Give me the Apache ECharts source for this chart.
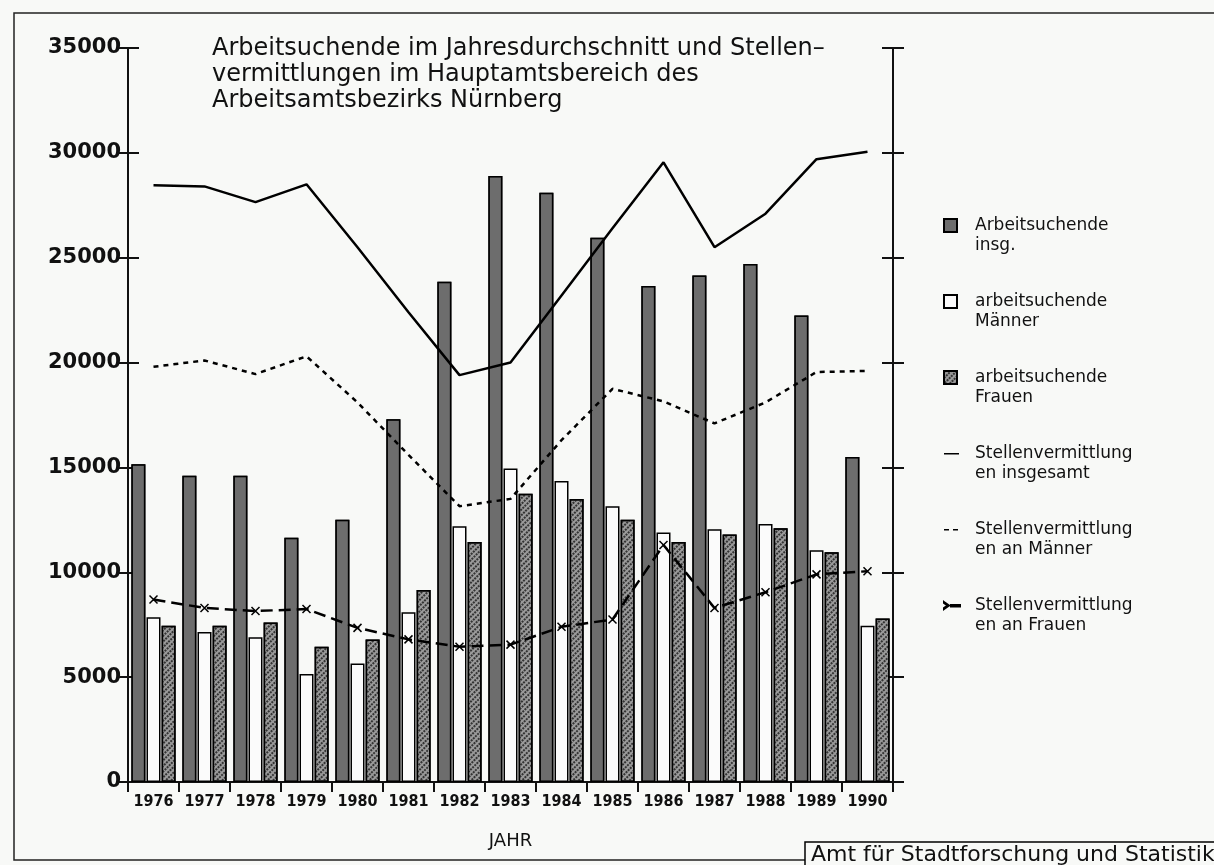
<!DOCTYPE html>
<html>
<head>
<meta charset="utf-8">
<script src="https://cdn.jsdelivr.net/npm/echarts@6/dist/echarts.min.js"></script>
<style>
html,body{margin:0;padding:0;background:#f8f9f7;}
#chart{width:1214px;height:865px;}
</style>
</head>
<body>
<div id="chart"></div>
<script>
var years = ['1976','1977','1978','1979','1980','1981','1982','1983','1984','1985','1986','1987','1988','1989','1990'];
var yTicks = [0, 5000, 10000, 15000, 20000, 25000, 30000, 35000];
var titleLines = ['Arbeitsuchende im Jahresdurchschnitt und Stellen\u2013', 'vermittlungen im Hauptamtsbereich des', 'Arbeitsamtsbezirks N\u00fcrnberg'];
var seriesNames = ['Arbeitsuchende\ninsg.', 'arbeitsuchende\nM\u00e4nner', 'arbeitsuchende\nFrauen', 'Stellenvermittlung\nen insgesamt', 'Stellenvermittlung\nen an M\u00e4nner', 'Stellenvermittlung\nen an Frauen'];
var arbeitsuchendeInsg = [15150, 14600, 14600, 11650, 12500, 17300, 23850, 28900, 28100, 25950, 23650, 24150, 24700, 22250, 15500];
var arbeitsuchendeMaenner = [7850, 7150, 6900, 5150, 5650, 8100, 12200, 14950, 14350, 13150, 11900, 12050, 12300, 11050, 7450];
var arbeitsuchendeFrauen = [7450, 7450, 7600, 6450, 6800, 9150, 11450, 13750, 13500, 12500, 11450, 11800, 12100, 10950, 7800];
var stellenInsgesamt = [28450, 28400, 27650, 28500, 25500, 22400, 19400, 20000, 23200, 26400, 29550, 25500, 27100, 29700, 30050];
var stellenMaenner = [19800, 20100, 19450, 20300, 18100, 15600, 13150, 13500, 16300, 18750, 18150, 17100, 18100, 19550, 19600];
var stellenFrauen = [8700, 8300, 8150, 8250, 7350, 6800, 6450, 6550, 7400, 7750, 11300, 8300, 9050, 9900, 10050];
var footerText = 'Amt f\u00fcr Stadtforschung und Statistik';
var xAxisName = 'JAHR';

var chart = echarts.init(document.getElementById('chart'), null, {renderer: 'canvas'});
var yMin = yTicks[0], yMax = yTicks[yTicks.length - 1], yInt = yTicks[1] - yTicks[0];
var ink = '#111';
var bg = '#f8f9f7';

function yAx(pos, inside, showLabel, showLine) {
  return {
    type: 'value', position: pos, min: yMin, max: yMax, interval: yInt,
    axisLine: {show: showLine, lineStyle: {color: ink, width: 2}},
    axisTick: {show: true, inside: inside, length: 11, lineStyle: {color: ink, width: 2}},
    axisLabel: {show: showLabel, margin: 7, color: ink, fontFamily: 'DejaVu Sans', fontWeight: 'bold', fontSize: 21,
      formatter: function (v) { return String(v); }},
    splitLine: {show: false}
  };
}

// legend icons: drawn in the top part of a 26x34 box so they sit on the first text line
var legendIcons = [
  'path://M0,0H13V13H0ZM26,34L26,34',
  'path://M0,0H13V13H0ZM26,34L26,34',
  'path://M0,0H13V13H0ZM26,34L26,34',
  'path://M0,0L0,0M0,6H15V7.5H0ZM26,34L26,34',
  'path://M0,0L0,0M0,6H5V7.5H0ZM9,6H14V7.5H9ZM26,34L26,34',
  'path://M0,0L0,0M0,3L5,6.5L0,10V9L3.5,6.5L0,4ZM7,6H16V7.5H7ZM26,34L26,34'
];
var legendData = seriesNames.map(function (n, i) { return {name: n, icon: legendIcons[i]}; });

var option = {
  backgroundColor: bg,
  animation: false,
  grid: {left: 128, right: 321, top: 48, bottom: 83, containLabel: false},
  legend: {
    orient: 'vertical', left: 938, top: 211, itemGap: 36,
    itemWidth: 26, itemHeight: 34,
    textStyle: {color: ink, fontFamily: 'DejaVu Sans', fontSize: 17, lineHeight: 20},
    data: legendData
  },
  graphic: [
    {type: 'rect', z: -1, shape: {x: 14, y: 13, width: 1300, height: 847}, style: {fill: null, stroke: '#222', lineWidth: 1.5}},
    {type: 'text', left: 212, top: 36, style: {text: titleLines.join('\n'), fill: ink, font: '24px "DejaVu Sans"', lineHeight: 26}},
    {type: 'rect', shape: {x: 805, y: 842, width: 420, height: 30}, style: {fill: bg, stroke: '#000', lineWidth: 1.5}},
    {type: 'text', left: 811, top: 844, style: {text: footerText, fill: ink, font: '22px "DejaVu Sans"'}}
  ],
  xAxis: {
    type: 'category', data: years, boundaryGap: true,
    name: xAxisName, nameLocation: 'middle', nameGap: 50,
    nameTextStyle: {color: ink, fontFamily: 'DejaVu Sans', fontSize: 18},
    axisLine: {lineStyle: {color: ink, width: 2}},
    axisTick: {show: true, alignWithLabel: false, length: 10, lineStyle: {color: ink, width: 2}},
    axisLabel: {interval: 0, margin: 12, color: ink, fontFamily: 'DejaVu Sans Condensed', fontWeight: 'bold', fontSize: 16}
  },
  yAxis: [yAx('left', false, true, true), yAx('right', false, false, true), yAx('left', true, false, false), yAx('right', true, false, false)],
  series: [
    {name: seriesNames[0], type: 'bar', data: arbeitsuchendeInsg, barWidth: 14, barGap: '8%',
     itemStyle: {color: '#3a3a3a', borderColor: '#000', borderWidth: 1.5,
       decal: {symbol: 'rect', dashArrayX: [[1, 0], [1, 0]], dashArrayY: [2, 0], symbolSize: 1, color: 'rgba(160,160,160,0.5)', rotation: 0}}},
    {name: seriesNames[1], type: 'bar', data: arbeitsuchendeMaenner, barWidth: 14, barGap: '8%',
     itemStyle: {color: '#fbfbfb', borderColor: '#000', borderWidth: 1.5}},
    {name: seriesNames[2], type: 'bar', data: arbeitsuchendeFrauen, barWidth: 14, barGap: '8%',
     itemStyle: {color: '#9a9a9a', borderColor: '#000', borderWidth: 1.5,
       decal: {symbol: 'rect', dashArrayX: [2, 2], dashArrayY: [2, 1], rotation: Math.PI / 4, color: '#333'}}},
    {name: seriesNames[3], type: 'line', data: stellenInsgesamt, showSymbol: false, symbol: 'none', z: 5,
     lineStyle: {color: '#000', width: 2.5}, itemStyle: {color: '#000'}},
    {name: seriesNames[4], type: 'line', data: stellenMaenner, showSymbol: false, symbol: 'none', z: 5,
     lineStyle: {color: '#000', width: 2.5, type: [5, 5]}, itemStyle: {color: '#000'}},
    {name: seriesNames[5], type: 'line', data: stellenFrauen, z: 5,
     symbol: 'path://M0 0L10 10M10 0L0 10', symbolSize: 8, showSymbol: true,
     lineStyle: {color: '#000', width: 2.5, type: [12, 6]},
     itemStyle: {color: '#000', borderColor: '#000', borderWidth: 1.5}}
  ]
};
chart.setOption(option);
</script>
</body>
</html>
